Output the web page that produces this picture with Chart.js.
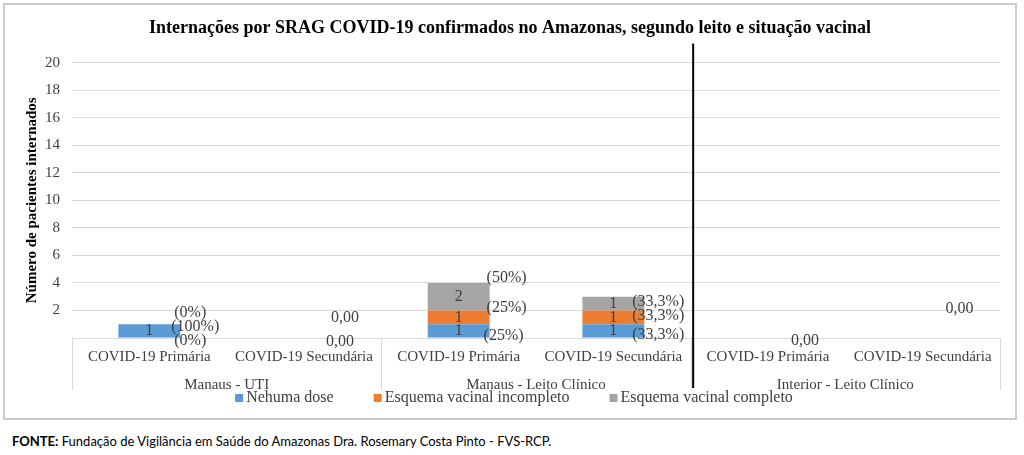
<!DOCTYPE html>
<html><head><meta charset="utf-8">
<script src="https://cdn.jsdelivr.net/npm/chart.js@4"></script>
<style>
html,body{margin:0;padding:0;background:#fff;width:1024px;height:455px;overflow:hidden}
#box{position:absolute;left:3px;top:3px;width:1010px;height:413px;border:2px solid #cbcbcb}
#box canvas{display:block}
#fonte{position:absolute;left:12px;top:433px;font-family:Lato,'Liberation Sans',sans-serif;font-size:13px;color:#000;white-space:nowrap}
</style></head><body>
<div id="box"><canvas id="c" width="1010" height="413"></canvas></div>
<div id="fonte"><b>FONTE:</b> Fundação de Vigilância em Saúde do Amazonas Dra. Rosemary Costa Pinto - FVS-RCP.</div>
<script>
const chartTitle = 'Internações por SRAG COVID-19 confirmados no Amazonas, segundo leito e situação vacinal';
const yTitle = 'Número de pacientes internados';
const categories = ['COVID-19 Primária','COVID-19 Secundária','COVID-19 Primária','COVID-19 Secundária','COVID-19 Primária','COVID-19 Secundária'];
const groups = ['Manaus - UTI','Manaus - Leito Clínico','Interior - Leito Clínico'];
const seriesNames = ['Nehuma dose','Esquema vacinal incompleto','Esquema vacinal completo'];
const nenhumaDose = [1,0,1,1,0,0];
const incompleto  = [0,0,1,1,0,0];
const completo    = [0,0,2,1,0,0];
const pctNenhuma    = ['(100%)','0,00','(25%)','(33,3%)','0,00',''];
const pctIncompleto = ['(0%)','0,00','(25%)','(33,3%)','',''];
const pctCompleto   = ['(0%)','','(50%)','(33,3%)','','0,00'];
const yMin = 0, yMax = 20, yStep = 2;

const SERIF = "'Liberation Serif','Times New Roman',serif";
Chart.defaults.font.family = SERIF;
const colors = ['#5B9BD5','#ED7D31','#A5A5A5'];
const pctLabels = [pctNenhuma, pctIncompleto, pctCompleto];
// label layout nudges (px) relative to bar right edge / segment middle
const nudges = [
  [[-9,-4],[-9,4],[-6,5],[-12,4],[-8,3],[0,0]],
  [[-6,17],[-4,-20],[-3,-10],[-12,-2],[0,0],[0,0]],
  [[-6,-11],[0,0],[-3,-19],[-12,-2],[0,0],[-8,-29]]
];

const decor = {
  id:'decor',
  afterDraw(chart){
    const ctx = chart.ctx, x = chart.scales.x, ca = chart.chartArea;
    ctx.save();
    ctx.font = '16px ' + SERIF;
    ctx.fillStyle = '#404040';
    ctx.textAlign = 'center'; ctx.textBaseline = 'middle';
    chart.data.datasets.forEach((ds, d) => {
      const meta = chart.getDatasetMeta(d);
      meta.data.forEach((el, i) => {
        if (ds.data[i] > 0) ctx.fillText(String(ds.data[i]), el.x, (el.y + el.base) / 2);
      });
    });
    ctx.textAlign = 'left';
    chart.data.datasets.forEach((ds, d) => {
      const meta = chart.getDatasetMeta(d);
      meta.data.forEach((el, i) => {
        const t = pctLabels[d][i];
        if (!t) return;
        const n = nudges[d][i];
        ctx.fillText(t, el.x + el.width / 2 + n[0], (el.y + el.base) / 2 + n[1]);
      });
    });
    const bounds = [x.left];
    for (let g = 1; g < groups.length; g++) {
      const k = g * 2;
      bounds.push((x.getPixelForValue(k - 1) + x.getPixelForValue(k)) / 2);
    }
    bounds.push(x.right);
    ctx.strokeStyle = '#d9d9d9'; ctx.lineWidth = 1;
    bounds.forEach(b => {
      ctx.beginPath(); ctx.moveTo(Math.round(b) + 0.5, ca.bottom); ctx.lineTo(Math.round(b) + 0.5, ca.bottom + 52); ctx.stroke();
    });
    const bx = (x.getPixelForValue(3) + x.getPixelForValue(4)) / 2 + 2.5;
    ctx.strokeStyle = '#000'; ctx.lineWidth = 2;
    ctx.beginPath(); ctx.moveTo(bx, ca.top - 19); ctx.lineTo(bx, ca.bottom + 50); ctx.stroke();
    ctx.font = '16px ' + SERIF;
    const box = 8, gapBT = 3, gapItems = 40;
    const widths = chart.data.datasets.map(ds => box + gapBT + ctx.measureText(ds.label).width);
    const total = widths.reduce((a, b) => a + b, 0) + gapItems * (widths.length - 1);
    let lx = chart.width / 2 - total / 2 + 4;
    const ly = chart.height - 20;
    ctx.textBaseline = 'middle'; ctx.textAlign = 'left';
    chart.data.datasets.forEach((ds, d) => {
      ctx.fillStyle = ds.backgroundColor;
      ctx.fillRect(lx, ly - box / 2, box, box);
      ctx.fillStyle = '#404040';
      ctx.fillText(ds.label, lx + box + gapBT, ly);
      lx += widths[d] + gapItems;
    });
    ctx.restore();
  }
};

new Chart(document.getElementById('c'), {
  type: 'bar',
  data: {
    labels: categories,
    datasets: [
      {label: seriesNames[0], data: nenhumaDose, backgroundColor: colors[0]},
      {label: seriesNames[1], data: incompleto, backgroundColor: colors[1]},
      {label: seriesNames[2], data: completo, backgroundColor: colors[2]}
    ]
  },
  options: {
    responsive: false,
    animation: false,
    devicePixelRatio: 1,
    categoryPercentage: 0.5,
    barPercentage: 0.8,
    layout: {padding: {left: 15, right: 15, top: 0, bottom: 24}},
    plugins: {
      legend: {display: false},
      tooltip: {enabled: false},
      title: {display: true, text: chartTitle, color: '#000', font: {family: SERIF, size: 18, weight: 'bold'}, padding: {top: 13, bottom: 23}}
    },
    scales: {
      x: {
        stacked: true,
        grid: {display: false, drawTicks: false},
        border: {display: false},
        ticks: {color: '#404040', font: {family: SERIF, size: 15}, padding: 10, maxRotation: 0, autoSkip: false}
      },
      x2: {
        type: 'category',
        labels: groups,
        offset: true,
        position: 'bottom',
        grid: {display: false, drawTicks: false},
        border: {display: false},
        ticks: {color: '#404040', font: {family: SERIF, size: 15}, padding: 0, maxRotation: 0, autoSkip: false}
      },
      y: {
        stacked: true,
        min: yMin, max: yMax,
        afterFit(s) { s.width = 52; },
        ticks: {stepSize: yStep, color: '#404040', font: {family: SERIF, size: 15}, padding: 12,
                callback: v => (v === 0 ? '' : v)},
        grid: {color: '#d9d9d9', lineWidth: 1, drawTicks: false},
        border: {display: false},
        title: {display: true, text: yTitle, color: '#000', font: {family: SERIF, size: 15, weight: 'bold'}, padding: {top: 3, bottom: 0}}
      }
    }
  },
  plugins: [decor]
});
</script>
</body></html>
